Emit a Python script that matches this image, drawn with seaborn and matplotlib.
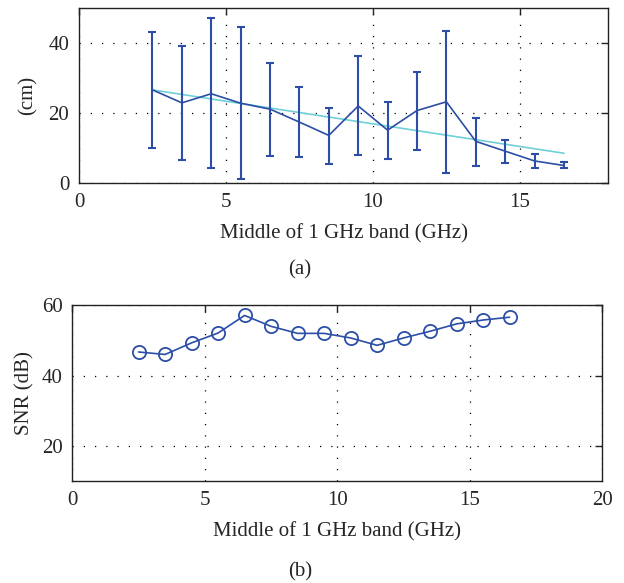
import numpy as np
import pandas as pd
import seaborn as sns
import matplotlib
matplotlib.use("Agg")
import matplotlib.pyplot as plt

# ---- data ----
band_mid = [2.5, 3.5, 4.5, 5.5, 6.5, 7.5, 8.5, 9.5, 10.5, 11.5, 12.5, 13.5, 14.5, 15.5, 16.5]
err_mean = [26.6, 22.9, 25.5, 22.8, 21.1, 17.4, 13.6, 22.0, 15.1, 20.7, 23.2, 11.9, 9.1, 6.3, 5.0]
err_top = [43.1, 39.1, 47.0, 44.7, 34.2, 27.5, 21.5, 36.4, 23.1, 31.8, 43.5, 18.7, 12.4, 8.3, 5.9]
err_bot = [10.1, 6.7, 4.3, 1.1, 7.8, 7.3, 5.5, 7.9, 6.9, 9.4, 2.9, 4.9, 5.7, 4.2, 4.2]
snr_db = [46.7, 46.0, 49.3, 52.1, 57.1, 54.0, 52.0, 52.0, 50.7, 48.6, 50.7, 52.6, 54.7, 55.8, 56.6]

xticks_a = [0, 5, 10, 15]
yticks_a = [0, 20, 40]
xticks_b = [0, 5, 10, 15, 20]
yticks_b = [20, 40, 60]

df = pd.DataFrame({"x": band_mid, "mean": err_mean, "top": err_top,
                   "bot": err_bot, "snr": snr_db})

sns.set_style("white")
plt.rcParams["font.family"] = ["Liberation Serif", "DejaVu Serif"]
plt.rcParams["font.size"] = 15

BLUE = "#2c4ea6"
CYAN = "#6fd0d8"
FS = 15

fig = plt.figure(figsize=(6.24, 5.83), dpi=100)

def style_axes(ax):
    for s in ax.spines.values():
        s.set_color("#222222")
        s.set_linewidth(1.0)
    ax.tick_params(direction="in", top=True, right=True, length=5,
                   width=1.0, color="#222222", labelsize=FS, pad=7)
    ax.grid(True, which="major", color="black", linestyle=(0, (1, 8)),
            linewidth=0.9)
    ax.set_axisbelow(True)

# ---- (a) ----
ax1 = fig.add_axes([0.1266, 0.6861, 0.8478, 0.3002])
style_axes(ax1)
yerr = np.vstack([df["mean"] - df["bot"], df["top"] - df["mean"]])
ax1.errorbar(df["x"], df["mean"], yerr=yerr, color=BLUE, lw=1.2,
             elinewidth=1.5, capsize=3, capthick=1.5, zorder=3)
sns.regplot(data=df, x="x", y="mean", ax=ax1, scatter=False, ci=None,
            truncate=True, line_kws=dict(color=CYAN, lw=1.2, zorder=2))
ax1.set_xlim(0, 18)
ax1.set_ylim(0, 50)
ax1.set_xticks(xticks_a)
ax1.set_yticks(yticks_a)
ax1.set_xlabel("Middle of 1 GHz band (GHz)", fontsize=FS, labelpad=9)
ax1.set_ylabel("(cm)", fontsize=FS, labelpad=8)
fig.text(0.481, 1 - 270 / 583, "(a)", ha="center", va="center", fontsize=FS)

# ---- (b) ----
ax2 = fig.add_axes([0.1159, 0.175, 0.8494, 0.3014])
style_axes(ax2)
sns.lineplot(data=df, x="x", y="snr", ax=ax2, color=BLUE, lw=1.2,
             marker="o", markersize=9.5, markerfacecolor="none",
             markeredgecolor=BLUE, markeredgewidth=1.3)
ax2.set_xlim(0, 20)
ax2.set_ylim(10, 60)
ax2.set_xticks(xticks_b)
ax2.set_yticks(yticks_b)
ax2.set_xlabel("Middle of 1 GHz band (GHz)", fontsize=FS, labelpad=9)
ax2.set_ylabel("SNR (dB)", fontsize=FS, labelpad=5)
fig.text(0.481, 1 - 572 / 583, "(b)", ha="center", va="center", fontsize=FS)

fig.savefig("out.png", dpi=100)
